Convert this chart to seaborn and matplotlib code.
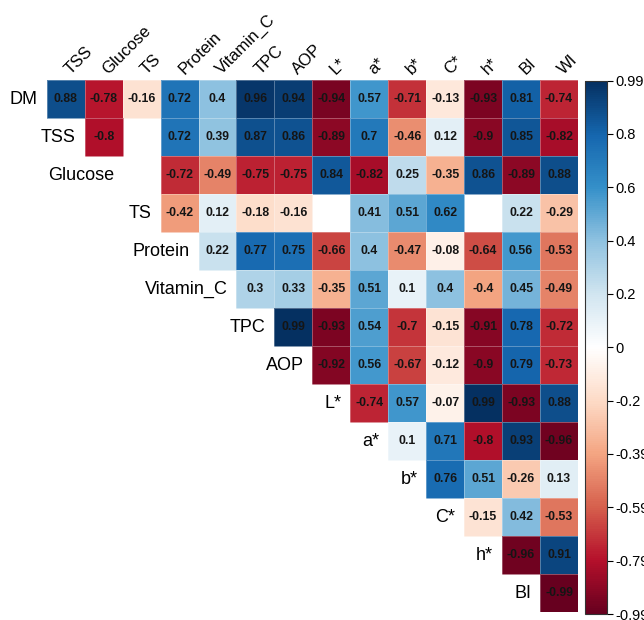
import numpy as np
import pandas as pd
import matplotlib
matplotlib.use("Agg")
import matplotlib.pyplot as plt
from matplotlib.colors import LinearSegmentedColormap
import seaborn as sns

variables = ["DM", "TSS", "Glucose", "TS", "Protein", "Vitamin_C", "TPC", "AOP",
             "L*", "a*", "b*", "C*", "h*", "BI", "WI"]
nan = np.nan
r_DM = [0.88, -0.78, -0.16, 0.72, 0.4, 0.96, 0.94, -0.94, 0.57, -0.71, -0.13, -0.93, 0.81, -0.74]
r_TSS = [-0.8, nan, 0.72, 0.39, 0.87, 0.86, -0.89, 0.7, -0.46, 0.12, -0.9, 0.85, -0.82]
r_Glucose = [nan, -0.72, -0.49, -0.75, -0.75, 0.84, -0.82, 0.25, -0.35, 0.86, -0.89, 0.88]
r_TS = [-0.42, 0.12, -0.18, -0.16, nan, 0.41, 0.51, 0.62, nan, 0.22, -0.29]
r_Protein = [0.22, 0.77, 0.75, -0.66, 0.4, -0.47, -0.08, -0.64, 0.56, -0.53]
r_VitC = [0.3, 0.33, -0.35, 0.51, 0.1, 0.4, -0.4, 0.45, -0.49]
r_TPC = [0.99, -0.93, 0.54, -0.7, -0.15, -0.91, 0.78, -0.72]
r_AOP = [-0.92, 0.56, -0.67, -0.12, -0.9, 0.79, -0.73]
r_L = [-0.74, 0.57, -0.07, 0.99, -0.93, 0.88]
r_a = [0.1, 0.71, -0.8, 0.93, -0.96]
r_b = [0.76, 0.51, -0.26, 0.13]
r_C = [-0.15, 0.42, -0.53]
r_h = [-0.96, 0.91]
r_BI = [-0.99]
rows = [r_DM, r_TSS, r_Glucose, r_TS, r_Protein, r_VitC, r_TPC, r_AOP,
        r_L, r_a, r_b, r_C, r_h, r_BI]

cbar_ticks_labels = ["-0.99", "-0.79", "-0.59", "-0.39", "-0.2", "0",
                     "0.2", "0.4", "0.6", "0.8", "0.99"]

n = len(variables) - 1
row_names = variables[:-1]
col_names = variables[1:]
mat = np.full((n, n), np.nan)
for i, vals in enumerate(rows):
    mat[i, i:] = vals
df = pd.DataFrame(mat, index=row_names, columns=col_names)

annot = np.empty((n, n), dtype=object)
for i in range(n):
    for j in range(n):
        v = mat[i, j]
        annot[i, j] = "" if np.isnan(v) else f"{v:g}"

cmap = LinearSegmentedColormap.from_list(
    "corrRdBu",
    ["#67001F", "#B5102B", "#D6604D", "#F4A582", "#FDDBC7", "#FFFFFF",
     "#D1E5F0", "#8FC2E0", "#3590C9", "#1566AE", "#053061"], N=256)

plt.rcParams["font.family"] = ["Liberation Sans", "DejaVu Sans"]

fig = plt.figure(figsize=(6.44, 6.2), dpi=100)
ax = fig.add_axes([46.7 / 644, 8 / 620, 531.3 / 644, 532 / 620])
cax = fig.add_axes([585 / 644, 6 / 620, 22 / 644, 533.5 / 620])

sns.heatmap(df, ax=ax, cbar_ax=cax, cmap=cmap, vmin=-0.99, vmax=0.99,
            annot=annot, fmt="", annot_kws={"fontsize": 8.8, "fontweight": "bold", "color": "#151515"},
            xticklabels=False, yticklabels=False, linewidths=0.4,
            linecolor=(1, 1, 1, 0.3), square=False)

ax.set_xlabel("")
ax.set_ylabel("")
ax.tick_params(left=False, bottom=False)

# column labels (rotated above)
for j, name in enumerate(col_names):
    ax.text(j + 0.68, -0.08, name, rotation=45, rotation_mode="anchor",
            ha="left", va="bottom", fontsize=12, color="black", clip_on=False)

# row labels next to diagonal
for i, name in enumerate(row_names):
    ax.text(i - 0.23, i + 0.5, name, ha="right", va="center",
            fontsize=13, color="black", clip_on=False)

# colorbar
tick_pos = np.linspace(-0.99, 0.99, 11)
cbar = ax.collections[0].colorbar
cbar.set_ticks(tick_pos)
cbar.set_ticklabels(cbar_ticks_labels)
cax.tick_params(labelsize=10.5, length=4, width=0.8, colors="black", direction="out", pad=2)
cbar.outline.set_visible(True)
cbar.outline.set_linewidth(0.8)
cbar.outline.set_edgecolor("#333333")

fig.savefig("out.png", dpi=100)
